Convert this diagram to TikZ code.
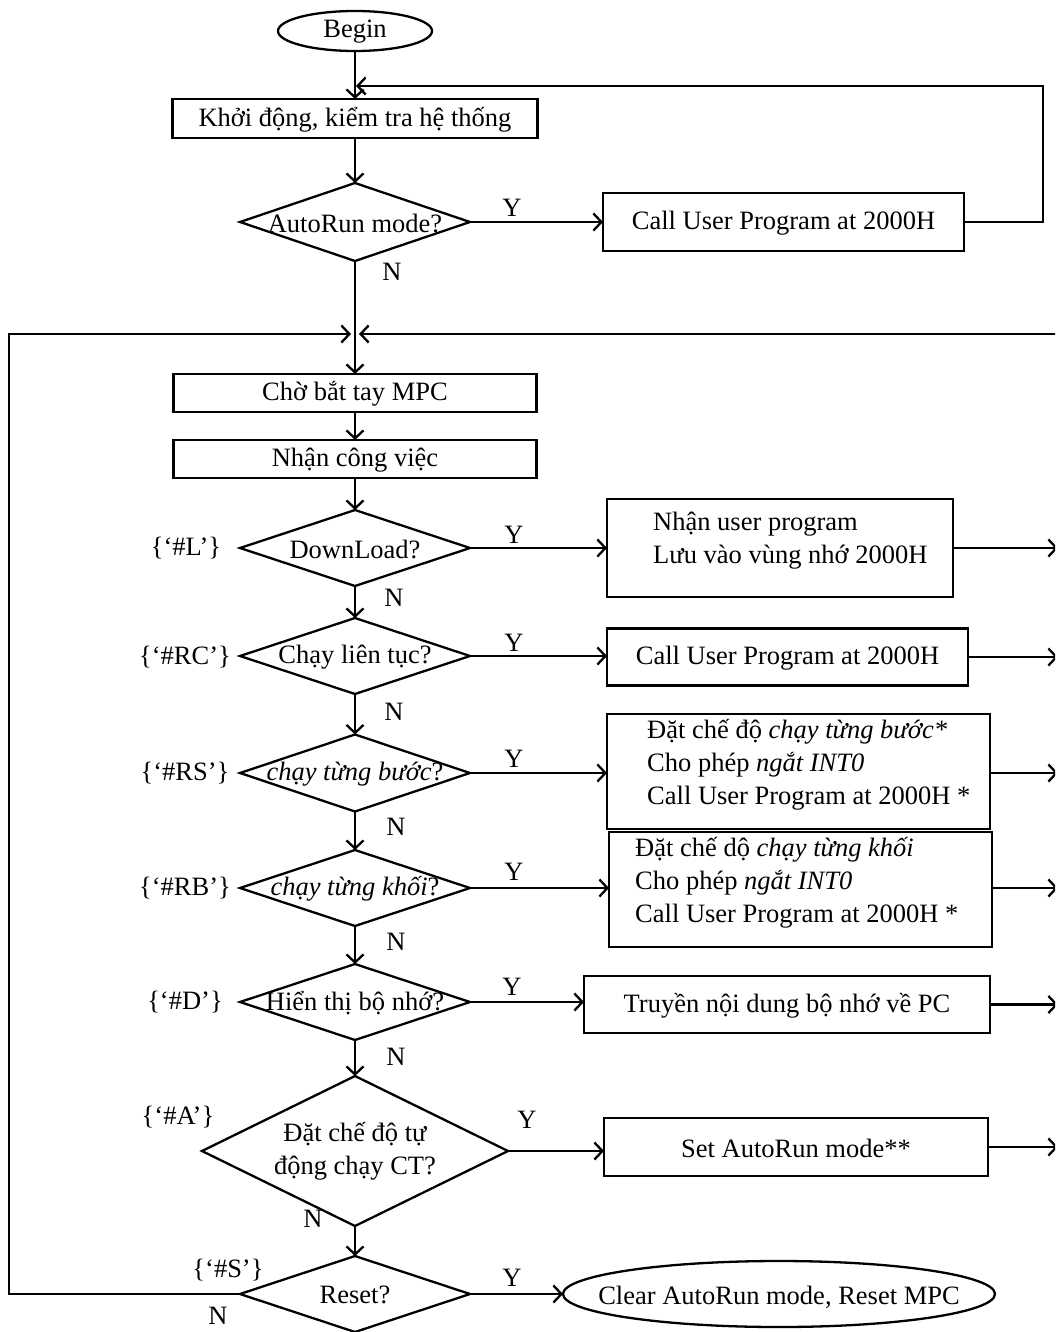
\documentclass[tikz,border=0pt]{standalone}
\usepackage{fontspec}
\setmainfont{Liberation Serif}
\usetikzlibrary{shapes.geometric,arrows.meta}
\tikzset{
  every node/.style={font=\fontsize{26.5}{33}\selectfont},
  box/.style={draw, line width=2.3pt, inner sep=0pt, outer sep=0pt},
  dia/.style={draw, diamond, line width=2.3pt, inner sep=0pt, outer sep=0pt},
  term/.style={draw, ellipse, line width=2.3pt, inner sep=0pt, outer sep=0pt},
  arr/.style={line width=2.3pt, -{Straight Barb[length=8pt,width=17pt]}},
  lbl/.style={inner sep=0pt},
}
\begin{document}
\begin{tikzpicture}[x=1pt,y=-1pt]
\useasboundingbox (0,0) rectangle (1055,1332);
\clip (0,0) rectangle (1055,1332);
\coordinate (rx) at (1058,0);

% main column
\node[term, minimum width=154pt, minimum height=40pt] (begin) at (355,31) {};
\node[lbl] (tbegin) at (355,32) {Begin};
\node[box, minimum width=365pt, minimum height=39pt] (init) at (355,118.5) {};
\node[lbl] (tinit) at (355,120) {Khởi động, kiểm tra hệ thống};
\node[dia, minimum width=230pt, minimum height=78pt] (dauto) at (355,222) {};
\node[lbl] (tauto) at (355,223) {AutoRun mode?};
\node[box, minimum width=361pt, minimum height=58pt] (call1) at (783.5,222) {};
\node[lbl] (tcall1) at (783.5,223) {Call User Program at 2000H};

\node[box, minimum width=363pt, minimum height=38pt] (cho) at (355,393) {};
\node[lbl] (tcho) at (355,394) {Chờ bắt tay MPC};
\node[box, minimum width=363pt, minimum height=38pt] (nhan) at (355,459) {};
\node[lbl] (tnhan) at (355,460) {Nhận công việc};

\node[dia, minimum width=230pt, minimum height=76pt] (dL) at (355,548) {};
\node[lbl] (tL) at (355,549) {DownLoad?};
\node[dia, minimum width=230pt, minimum height=76pt] (dRC) at (355,656) {};
\node[lbl] (tRC) at (355,657) {Chạy liên tục?};
\node[dia, minimum width=230pt, minimum height=77pt] (dRS) at (355,773) {};
\node[lbl] (tRS) at (355,774) {\textit{chạy từng bước}?};
\node[dia, minimum width=230pt, minimum height=76pt] (dRB) at (355,888) {};
\node[lbl] (tRB) at (355,889) {\textit{chạy từng khối}?};
\node[dia, minimum width=230pt, minimum height=76pt] (dD) at (355,1002) {};
\node[lbl] (tD) at (355,1003) {Hiển thị bộ nhớ?};
\node[dia, minimum width=306pt, minimum height=150pt] (dA) at (355,1151) {};
\node[lbl, align=center] (tA) at (355,1151) {Đặt chế độ tự\\động chạy CT?};
\node[dia, minimum width=230pt, minimum height=76pt] (dS) at (355,1294) {};
\node[lbl] (tS) at (355,1295) {Reset?};

% right column
\node[box, minimum width=346pt, minimum height=98pt] (bL) at (780,548) {};
\node[lbl, anchor=west, align=left] (xL) at (653,541) {Nhận user program\\Lưu vào vùng nhớ 2000H};
\node[box, minimum width=361pt, minimum height=57pt] (bRC) at (787.5,657) {};
\node[lbl] (tRCbox) at (787.5,658) {Call User Program at 2000H};
\node[box, minimum width=383pt, minimum height=115pt] (bRS) at (798.5,771.5) {};
\node[lbl, anchor=west, align=left] (xRS) at (647,765) {Đặt chế độ \textit{chạy từng bước*}\\Cho phép \textit{ngắt INT0}\\Call User Program at 2000H *};
\node[box, minimum width=383pt, minimum height=115pt] (bRB) at (800.5,889.5) {};
\node[lbl, anchor=west, align=left] (xRB) at (635,883) {Đặt chế dộ \textit{chạy từng khối}\\Cho phép \textit{ngắt INT0}\\Call User Program at 2000H *};
\node[box, minimum width=406pt, minimum height=57pt] (bD) at (787,1004.5) {};
\node[lbl] (tDbox) at (787,1005.5) {Truyền nội dung bộ nhớ về PC};
\node[box, minimum width=384pt, minimum height=58pt] (bA) at (796,1147) {};
\node[lbl] (tAbox) at (796,1148) {Set AutoRun mode**};
\node[term, minimum width=432pt, minimum height=66pt] (clr) at (779,1294) {};
\node[lbl] (tclr) at (779,1297) {Clear AutoRun mode, Reset MPC};

% side labels
\node[lbl] (cL) at (186,548) {\{‘\#L’\}};
\node[lbl] (cRC) at (185,657) {\{‘\#RC’\}};
\node[lbl] (cRS) at (185,773) {\{‘\#RS’\}};
\node[lbl] (cRB) at (185,888) {\{‘\#RB’\}};
\node[lbl] (cD) at (185,1002) {\{‘\#D’\}};
\node[lbl] (cA) at (178,1117) {\{‘\#A’\}};
\node[lbl] (cS) at (228,1270) {\{‘\#S’\}};

% Y / N labels
\node[lbl] (y0) at (512,208) {Y};
\node[lbl] (y1) at (514,535) {Y};
\node[lbl] (y2) at (514,643) {Y};
\node[lbl] (y3) at (514,759) {Y};
\node[lbl] (y4) at (514,872) {Y};
\node[lbl] (y5) at (512,987) {Y};
\node[lbl] (y6) at (527,1120) {Y};
\node[lbl] (y7) at (512,1278) {Y};
\node[lbl] (n0) at (392,272) {N};
\node[lbl] (n1) at (394,598) {N};
\node[lbl] (n2) at (394,712) {N};
\node[lbl] (n3) at (396,827) {N};
\node[lbl] (n4) at (396,942) {N};
\node[lbl] (n5) at (396,1057) {N};
\node[lbl] (n6) at (313,1219) {N};
\node[lbl] (n7) at (218,1316) {N};

% junction coordinates
\coordinate (jt) at (356,86);
\coordinate (jl) at (351,334);
\coordinate (jr) at (359,334);
\coordinate (rin) at (1060,334);
\coordinate (ctop) at (1043,222);
\coordinate (cleft) at (9,334);

% main vertical flow
\draw[arr] (begin.south) -- (init.north);
\draw[arr] (init.south) -- (dauto.north);
\draw[arr] (dauto.south) -- (cho.north);
\draw[arr] (cho.south) -- (nhan.north);
\draw[arr] (nhan.south) -- (dL.north);
\draw[arr] (dL.south) -- (dRC.north);
\draw[arr] (dRC.south) -- (dRS.north);
\draw[arr] (dRS.south) -- (dRB.north);
\draw[arr] (dRB.south) -- (dD.north);
\draw[arr] (dD.south) -- (dA.north);
\draw[arr] (dA.south) -- (dS.north);

% Y branches
\draw[arr] (dauto.east) -- (dauto.east -| call1.west);
\draw[arr] (dL.east) -- (dL.east -| bL.west);
\draw[arr] (dRC.east) -- (dRC.east -| bRC.west);
\draw[arr] (dRS.east) -- (dRS.east -| bRS.west);
\draw[arr] (dRB.east) -- (dRB.east -| bRB.west);
\draw[arr] (dD.east) -- (dD.east -| bD.west);
\draw[arr] (dA.east) -- (dA.east -| bA.west);
\draw[arr] (dS.east) -- (clr.west);

% outgoing to the right edge
\draw[arr] (bL.east) -- (bL.east -| rx);
\draw[arr] (bRC.east) -- (bRC.east -| rx);
\draw[arr] (dRS.east -| bRS.east) -- (dRS.east -| rx);
\draw[arr] (dRB.east -| bRB.east) -- (dRB.east -| rx);
\draw[arr] (bD.east) -- (bD.east -| rx);
\draw[arr] (bA.east) -- (bA.east -| rx);

% loops
\draw[arr] (call1.east) -- (ctop) |- (jt);
\draw[arr] (rin) -- (jr);
\draw[arr] (dS.west) -| (cleft) -- (jl);
\end{tikzpicture}
\end{document}
